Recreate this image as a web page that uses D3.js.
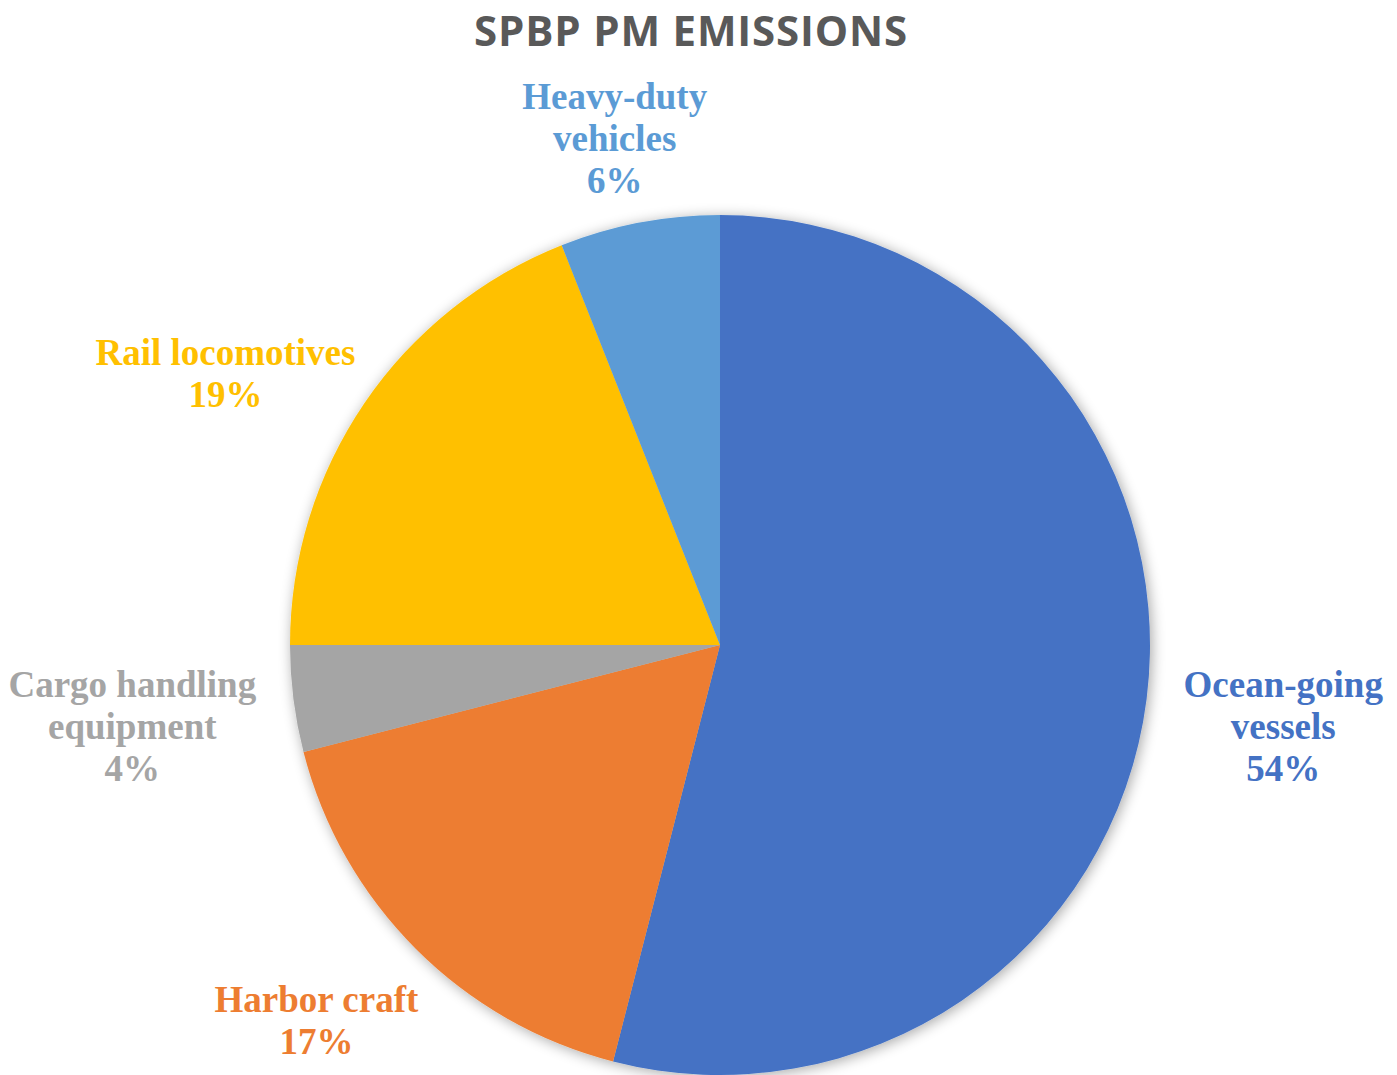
<!DOCTYPE html>
<html>
<head>
<meta charset="utf-8">
<script src="https://cdn.jsdelivr.net/npm/d3@7"></script>
<style>
  body { margin: 0; background: #fff; }
  svg { display: block; }
</style>
</head>
<body>
<div id="chart"></div>
<script>
var title = "SPBP PM EMISSIONS";
var categories = ["Ocean-going vessels", "Harbor craft", "Cargo handling equipment", "Rail locomotives", "Heavy-duty vehicles"];
var labelLines = [["Ocean-going", "vessels"], ["Harbor craft"], ["Cargo handling", "equipment"], ["Rail locomotives"], ["Heavy-duty", "vehicles"]];
var values = [54, 17, 4, 19, 6];
var colors = ["#4472C4", "#ED7D31", "#A5A5A5", "#FFC000", "#5B9BD5"];

var width = 1397,
    height = 1075,
    cx = 720,
    cy = 645,
    radius = 430,
    labelGap = 38,
    labelDrop = 15,
    lineHeight = 42;

var data = categories.map(function(c, i) {
  return {name: c, lines: labelLines[i], value: values[i], color: colors[i]};
});
var total = d3.sum(values);
var pct = d3.format(".0%");

var svg = d3.select("#chart").append("svg")
    .attr("width", width)
    .attr("height", height);

var defs = svg.append("defs");
var filter = defs.append("filter")
    .attr("id", "shadow")
    .attr("x", "-10%").attr("y", "-10%")
    .attr("width", "120%").attr("height", "120%");
filter.append("feGaussianBlur").attr("in", "SourceAlpha").attr("stdDeviation", 7);
filter.append("feOffset").attr("dx", 2).attr("dy", 2).attr("result", "off");
filter.append("feComponentTransfer").attr("in", "off").attr("result", "soft")
  .append("feFuncA").attr("type", "linear").attr("slope", 0.35);
var merge = filter.append("feMerge");
merge.append("feMergeNode").attr("in", "soft");
merge.append("feMergeNode").attr("in", "SourceGraphic");

var titleText = svg.append("text")
    .attr("x", 691)
    .attr("y", 46)
    .attr("text-anchor", "middle")
    .attr("font-family", "'Open Sans', sans-serif")
    .attr("font-weight", "bold")
    .attr("font-size", 42)
    .attr("fill", "#595959")
    .text(title);
// widen the title a little to the width seen in the reference
var tw = titleText.node().getComputedTextLength();
if (tw < 433) titleText.attr("letter-spacing", (433 - tw) / (title.length - 1));

var pie = d3.pie()
    .sort(null)
    .value(function(d) { return d.value; });

var arc = d3.arc()
    .innerRadius(0)
    .outerRadius(radius);

var arcs = pie(data);

var g = svg.append("g")
    .attr("transform", "translate(" + cx + "," + cy + ")");

g.append("g")
    .attr("filter", "url(#shadow)")
  .selectAll("path")
  .data(arcs)
  .enter().append("path")
    .attr("d", arc)
    .attr("fill", function(d) { return d.data.color; });

// labels placed outside end, like Excel
var labels = g.selectAll(".label")
  .data(arcs)
  .enter().append("g")
    .attr("class", "label");

var texts = labels.append("text")
    .attr("text-anchor", "middle")
    .attr("font-family", "'Liberation Serif', 'Times New Roman', serif")
    .attr("font-weight", "bold")
    .attr("font-size", 37)
    .attr("fill", function(d) { return d.data.color; });

texts.each(function(d) {
  var t = d3.select(this);
  var lines = d.data.lines.concat([pct(d.data.value / total)]);
  lines.forEach(function(l, i) {
    t.append("tspan")
      .attr("x", 0)
      .attr("y", i * lineHeight)
      .text(l);
  });
});

labels.each(function(d) {
  var a = (d.startAngle + d.endAngle) / 2,
      s = Math.sin(a), c = Math.cos(a),
      bb = this.getBBox(),
      ax = (radius + labelGap) * s,
      ay = -(radius + labelGap) * c,
      mx = ax + s * bb.width / 2,
      my = ay - c * bb.height / 2 + labelDrop;
  var top = my - bb.height / 2;
  if (top + cy < 75) my += 75 - (top + cy);
  // keep labels inside the page
  var left = mx - bb.width / 2 + cx, right = mx + bb.width / 2 + cx;
  if (left < 8) mx += 8 - left;
  if (right > width - 6) mx -= right - (width - 6);
  var tx = mx - (bb.x + bb.width / 2),
      ty = my - (bb.y + bb.height / 2);
  d3.select(this).attr("transform", "translate(" + tx + "," + ty + ")");
});
</script>
</body>
</html>
